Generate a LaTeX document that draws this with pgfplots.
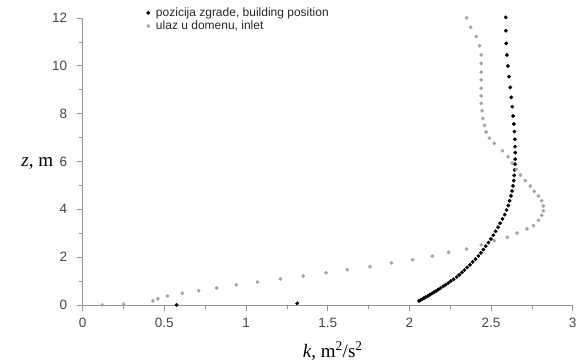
\documentclass[border=0pt]{standalone}
\usepackage{pgfplots}
\pgfplotsset{compat=1.18}
\usepackage{fontspec}
\setmainfont{Liberation Sans}
\newfontfamily\serif{Liberation Serif}

\definecolor{axisgray}{RGB}{150,150,150}
\definecolor{ticktext}{RGB}{70,70,70}
\definecolor{inletgray}{RGB}{165,165,165}
\definecolor{legendtext}{RGB}{40,40,40}

% turbulent kinetic energy k (m^2/s^2) against height z (m)
\pgfplotstableread{
k      z
0.575  0.00
1.313  0.07
2.059  0.17
2.069  0.21
2.080  0.25
2.090  0.29
2.101  0.33
2.114  0.38
2.126  0.43
2.138  0.48
2.150  0.53
2.164  0.59
2.178  0.65
2.192  0.71
2.208  0.78
2.223  0.85
2.238  0.92
2.254  1.00
2.271  1.08
2.290  1.17
2.305  1.26
2.321  1.36
2.337  1.46
2.354  1.57
2.371  1.68
2.388  1.80
2.405  1.92
2.423  2.05
2.438  2.18
2.453  2.32
2.468  2.46
2.484  2.61
2.499  2.76
2.514  2.92
2.528  3.08
2.543  3.25
2.556  3.42
2.570  3.60
2.584  3.78
2.595  3.97
2.606  4.16
2.614  4.36
2.622  4.56
2.629  4.77
2.634  4.98
2.639  5.20
2.642  5.42
2.645  5.65
2.647  5.89
2.648  6.10
2.648  6.37
2.647  6.62
2.646  6.93
2.643  7.25
2.640  7.57
2.635  7.90
2.630  8.29
2.624  8.68
2.618  9.10
2.610  9.55
2.603  9.99
2.597  10.45
2.593  10.94
2.591  11.47
2.590  12.03
}\building

\pgfplotstableread{
k      z
0.12   0.00
0.25   0.04
0.43   0.17
0.46   0.26
0.52   0.38
0.61   0.49
0.71   0.60
0.82   0.71
0.94   0.84
1.07   0.96
1.21   1.09
1.35   1.21
1.49   1.35
1.62   1.48
1.76   1.60
1.89   1.76
2.02   1.89
2.14   2.04
2.24   2.20
2.35   2.34
2.44   2.51
2.52   2.69
2.60   2.83
2.66   3.01
2.72   3.18
2.76   3.32
2.79   3.54
2.81   3.75
2.82   3.94
2.82   4.14
2.81   4.36
2.79   4.56
2.765  4.75
2.74   4.97
2.71   5.20
2.68   5.43
2.655  5.67
2.63   5.93
2.605  6.20
2.57   6.45
2.52   6.76
2.49   6.98
2.47   7.23
2.46   7.51
2.45   7.80
2.445  8.12
2.44   8.43
2.44   8.74
2.44   9.06
2.44   9.41
2.44   9.74
2.44   10.10
2.44   10.46
2.43   10.84
2.41   11.23
2.375  11.61
2.35   12.01
}\inlet

\begin{document}
\begin{tikzpicture}
\useasboundingbox (-82.7pt,-55pt) rectangle (498.3pt,305pt);
\begin{axis}[
  scale only axis,
  width=490pt, height=287pt,
  xmin=0, xmax=3, ymin=0, ymax=12,
  axis x line*=bottom, axis y line*=left,
  axis line style={axisgray, line width=0.8pt},
  xtick={0,0.5,...,3}, ytick={0,2,...,12},
  minor x tick num=1, minor y tick num=1,
  xticklabels={0,0.5,1,1.5,2,2.5,3},
  /pgf/number format/assume math mode=true,
  tick style={axisgray, line width=0.7pt},
  tick align=outside,
  major tick length=6pt, minor tick length=4pt,
  ticklabel style={font=\fontsize{13.5}{15}\selectfont, text=ticktext},
  xticklabel style={yshift=-4pt},
  yticklabel style={xshift=-6pt},
  xlabel={\serif\fontsize{19}{21}\selectfont\textit{k}, m\textsuperscript{2}/s\textsuperscript{2}},
  ylabel={\serif\fontsize{19}{21}\selectfont\textit{z}, m},
  xlabel style={at={(axis description cs:0.5,0)}, anchor=base, yshift=-52pt, xshift=5pt},
  ylabel style={rotate=-90, at={(axis description cs:0,0.5)}, anchor=base east, xshift=-26pt, yshift=-5pt},
  clip=false,
  legend style={draw=none, fill=none, at={(axis cs:0.39,12.52)}, anchor=north west,
    font=\fontsize{12}{13}\selectfont, text=legendtext, row sep=-1pt, inner sep=0pt,
    /tikz/every odd column/.append style={column sep=4pt}},
  legend cell align=left,
  legend image code/.code={\draw[#1] plot coordinates {(0.1cm,0cm)};},
]
\addplot[only marks, mark=*, mark size=1.7pt, color=black] table[x=k, y=z] {\building};
\addlegendentry{pozicija zgrade, building position}
\addplot[only marks, mark=*, mark size=1.7pt, color=inletgray] table[x=k, y=z] {\inlet};
\addlegendentry{ulaz u domenu, inlet}
\end{axis}
\end{tikzpicture}
\end{document}
